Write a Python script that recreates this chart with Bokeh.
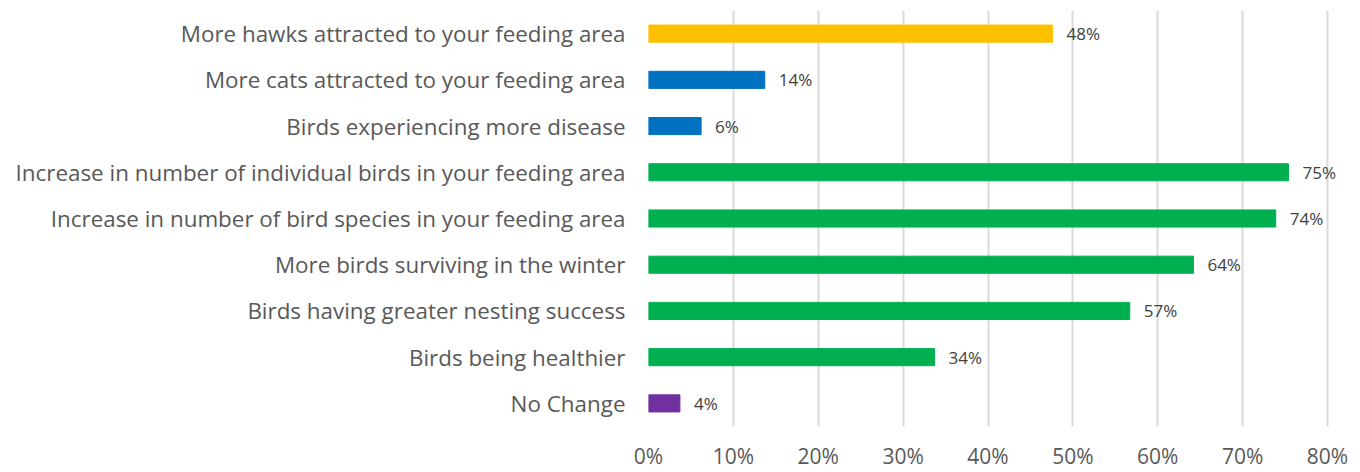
from bokeh.plotting import figure
from bokeh.models import ColumnDataSource, FactorRange, FixedTicker, CustomJSTickFormatter
from bokeh.core.properties import value
from bokeh.embed import file_html
from bokeh.resources import INLINE

# data (top to bottom as shown)
categories = [
    "More hawks attracted to your feeding area",
    "More cats attracted to your feeding area",
    "Birds experiencing more disease",
    "Increase in number of individual birds in your feeding area",
    "Increase in number of bird species in your feeding area",
    "More birds surviving in the winter",
    "Birds having greater nesting success",
    "Birds being healthier",
    "No Change",
]
percents = [47.6, 13.7, 6.2, 75.4, 73.9, 64.2, 56.7, 33.7, 3.7]
bar_colors = ["#FFC000", "#0070C0", "#0070C0", "#00B050", "#00B050",
              "#00B050", "#00B050", "#00B050", "#7030A0"]
x_ticks = [0, 10, 20, 30, 40, 50, 60, 70, 80]

labels = [f"{round(v)}%" for v in percents]
src = ColumnDataSource(dict(cat=categories, val=percents, color=bar_colors, label=labels))

FONT = "Open Sans"

p = figure(width=1352, height=472, output_backend="svg", toolbar_location=None,
           y_range=FactorRange(*reversed(categories), range_padding=0),
           x_range=(0, 82),
           min_border_left=648, min_border_right=8, min_border_top=10, min_border_bottom=44)
p.outline_line_color = None
p.background_fill_color = "white"
p.border_fill_color = "white"

p.hbar(y="cat", right="val", left=0, height=0.37, color="color", source=src)
p.text(x="val", y="cat", text="label", source=src, x_offset=14,
       text_align="left", text_baseline="middle",
       text_font=value(FONT), text_font_size="17px", text_color="#404040")

p.xgrid.ticker = FixedTicker(ticks=x_ticks)
p.xgrid.grid_line_color = "#D9D9D9"
p.xgrid.grid_line_width = 2
p.ygrid.grid_line_color = None

p.xaxis.ticker = FixedTicker(ticks=x_ticks)
p.xaxis.formatter = CustomJSTickFormatter(code="return tick + '%';")
p.xaxis.axis_line_color = None
p.xaxis.major_tick_line_color = None
p.xaxis.minor_tick_line_color = None
p.xaxis.major_tick_out = 0
p.xaxis.major_label_standoff = 15
p.xaxis.major_label_text_font = FONT
p.xaxis.major_label_text_font_size = "21px"
p.xaxis.major_label_text_color = "#595959"

p.yaxis.axis_line_color = None
p.yaxis.major_tick_line_color = None
p.yaxis.major_tick_out = 0
p.yaxis.major_label_standoff = 23
p.yaxis.major_label_text_font = FONT
p.yaxis.major_label_text_font_size = "22.4px"
p.yaxis.major_label_text_color = "#595959"

open("out.html", "w").write(file_html(p, INLINE))
